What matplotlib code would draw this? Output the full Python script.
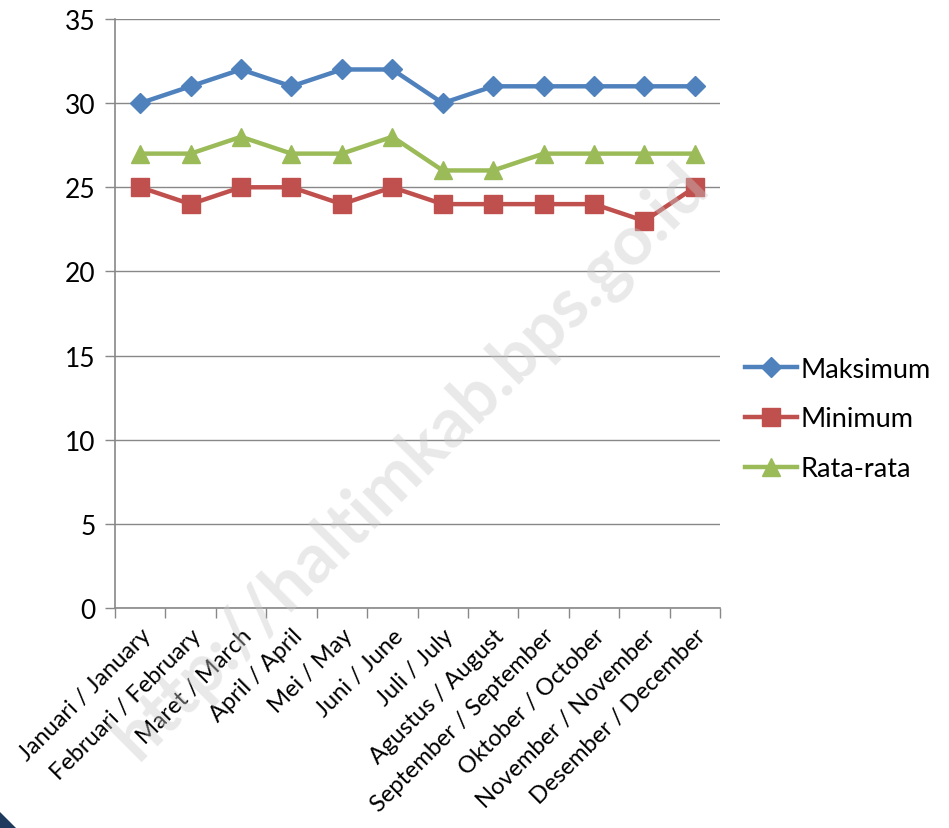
import numpy as np
import matplotlib
matplotlib.use('Agg')
import matplotlib.pyplot as plt
from matplotlib.patches import Polygon

plt.rcParams['font.family'] = ['Lato', 'DejaVu Sans']

# Data
months = ['Januari / January', 'Februari / February', 'Maret / March', 'April / April',
          'Mei / May', 'Juni / June', 'Juli / July', 'Agustus / August',
          'September / September', 'Oktober / October', 'November / November',
          'Desember / December']
maksimum = [30, 31, 32, 31, 32, 32, 30, 31, 31, 31, 31, 31]
minimum = [25, 24, 25, 25, 24, 25, 24, 24, 24, 24, 23, 25]
rata_rata = [27, 27, 28, 27, 27, 28, 26, 26, 27, 27, 27, 27]
y_ticks = [0, 5, 10, 15, 20, 25, 30, 35]

C_MAX = '#4F81BD'
C_MIN = '#C0504D'
C_AVG = '#9BBB59'
GRID = '#888888'

fig = plt.figure(figsize=(9.49, 8.29), dpi=100)
ax = fig.add_axes([115 / 949, 1 - 609 / 829, 605 / 949, 589 / 829])

x = np.arange(len(months))
ax.plot(x, maksimum, color=C_MAX, lw=3.2, marker='D', ms=10, label='Maksimum', zorder=3)
ax.plot(x, minimum, color=C_MIN, lw=3.2, marker='s', ms=13, label='Minimum', zorder=3)
ax.plot(x, rata_rata, color=C_AVG, lw=3.2, marker='^', ms=13, label='Rata-rata', zorder=3)

ax.set_xlim(-0.5, len(months) - 0.5)
ax.set_ylim(0, 35)
ax.set_yticks(y_ticks)
ax.yaxis.grid(True, color=GRID, lw=1.0)
ax.set_axisbelow(True)

ax.set_xticks(x)
ax.set_xticklabels(months, rotation=45, ha='right', rotation_mode='anchor', fontsize=17)
ax.set_xticks(np.arange(-0.5, len(months), 1), minor=True)
ax.tick_params(axis='x', which='major', length=0, pad=12)
ax.tick_params(axis='x', which='minor', length=7, color=GRID, width=1.0)
ax.tick_params(axis='y', length=7, color=GRID, width=1.0, labelsize=19, pad=7)

for s in ['top', 'right']:
    ax.spines[s].set_visible(False)
for s in ['left', 'bottom']:
    ax.spines[s].set_color(GRID)
    ax.spines[s].set_linewidth(1.2)

fig.legend(loc='center left', bbox_to_anchor=(721 / 949, 1 - 420 / 829), frameon=False,
           fontsize=19.5, labelspacing=0.92, handlelength=1.9, handletextpad=0.12)

# Watermark
fig.text(412 / 949, 1 - 462 / 829, 'http://haltimkab.bps.go.id', rotation=45,
         ha='center', va='center', fontsize=50, fontweight='bold', color='#c8c8c8',
         alpha=0.4, zorder=5)

# Corner decoration
fig.patches.append(Polygon([[0, 0], [0, 16 / 829], [16 / 949, 0]], closed=True,
                           transform=fig.transFigure, facecolor='#1F3A5C', edgecolor='none'))

fig.savefig('out.png', dpi=100, facecolor='white')
